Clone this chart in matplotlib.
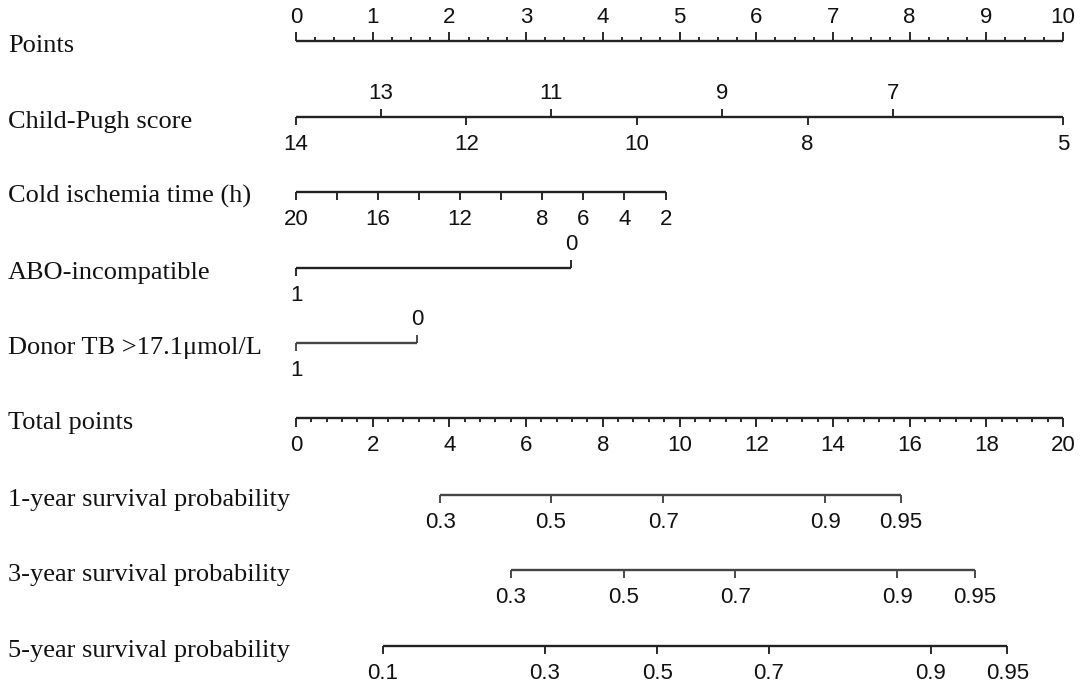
import matplotlib
matplotlib.use("Agg")
import matplotlib.pyplot as plt

# ---------------- data ----------------
row_labels = ["Points", "Child-Pugh score", "Cold ischemia time (h)", "ABO-incompatible",
              "Donor TB >17.1\u03bcmol/L", "Total points", "1-year survival probability",
              "3-year survival probability", "5-year survival probability"]

points_values = [0, 1, 2, 3, 4, 5, 6, 7, 8, 9, 10]

cp_values = [14, 13, 12, 11, 10, 9, 8, 7, 5]
cp_points = [0, 1.11, 2.22, 3.33, 4.44, 5.56, 6.67, 7.78, 10]
cp_above = [13, 11, 9, 7]

cold_values = [20, 18, 16, 14, 12, 10, 8, 6, 4, 2]
cold_points = [0, 0.535, 1.07, 1.60, 2.14, 2.67, 3.21, 3.74, 4.28, 4.82]
cold_labeled = [20, 16, 12, 8, 6, 4, 2]

abo_values = [1, 0]
abo_points = [0, 3.59]

tb_values = [1, 0]
tb_points = [0, 1.58]

total_values = [0, 2, 4, 6, 8, 10, 12, 14, 16, 18, 20]

surv_labels = ["0.3", "0.5", "0.7", "0.9", "0.95"]
surv1_total = [3.76, 6.64, 9.58, 13.80, 15.77]
surv3_total = [5.60, 8.54, 11.46, 15.68, 17.70]
surv5_labels = ["0.1", "0.3", "0.5", "0.7", "0.9", "0.95"]
surv5_total = [2.26, 6.48, 9.42, 12.33, 16.55, 18.55]

# ---------------- layout ----------------
W, H = 1084, 687
x0_px, px_per_pt = 296.0, 76.7
row_y = [41, 117, 192, 268, 343, 418, 495, 570, 646]
max_total = 20.0

fig = plt.figure(figsize=(W / 100, H / 100), dpi=100)
ax = fig.add_axes([0, 0, 1, 1])
ax.set_xlim(-x0_px / px_per_pt, (W - x0_px) / px_per_pt)
ax.set_ylim(H, 0)
ax.axis("off")

LC = "#222222"
LW = 1.7
SERIF = ["Liberation Serif", "DejaVu Serif"]
SANS = ["Liberation Sans", "DejaVu Sans"]
LAB_FS = 19
TICK_FS = 16
TICK_LEN = 8  # px
GAP_UP = 18
GAP_DN = 17


def tick(x, y, up, length=TICK_LEN, color=LC):
    y2 = y - length if up else y + length
    ax.plot([x, x], [y, y2], color=color, lw=LW * 0.8, solid_capstyle="butt")


def label(x, y, s, up):
    if up:
        ax.text(x, y - GAP_UP, s, ha="center", va="baseline", fontsize=TICK_FS,
                family=SANS, color="#111111")
    else:
        ax.text(x, y + GAP_DN, s, ha="center", va="top", fontsize=TICK_FS,
                family=SANS, color="#111111")


def hline(x1, x2, y, color=LC):
    ax.plot([x1, x2], [y, y], color=color, lw=LW, solid_capstyle="butt")


# row labels
for lab, y in zip(row_labels, row_y):
    ax.text(-x0_px / px_per_pt + 8 / px_per_pt, y + 11, lab, ha="left", va="baseline",
            fontsize=LAB_FS, family=SERIF, color="#111111")

# Points axis
y = row_y[0]
hline(points_values[0], points_values[-1], y)
for i in range(len(points_values) - 1):
    a, b = points_values[i], points_values[i + 1]
    for k in range(1, 4):
        tick(a + (b - a) * k / 4, y, True, length=4)
for v in points_values:
    tick(v, y, True, length=9)
    label(v, y, str(v), True)

# Child-Pugh
y = row_y[1]
hline(min(cp_points), max(cp_points), y)
for v, p in zip(cp_values, cp_points):
    up = v in cp_above
    tick(p, y, up)
    label(p, y, str(v), up)

# Cold ischemia
y = row_y[2]
hline(min(cold_points), max(cold_points), y)
for v, p in zip(cold_values, cold_points):
    tick(p, y, False)
    if v in cold_labeled:
        label(p, y, str(v), False)

# ABO
y = row_y[3]
hline(min(abo_points), max(abo_points), y)
for v, p in zip(abo_values, abo_points):
    up = (v == 0)
    tick(p, y, up)
    label(p, y, str(v), up)

# Donor TB
y = row_y[4]
hline(min(tb_points), max(tb_points), y, color="#444444")
for v, p in zip(tb_values, tb_points):
    up = (v == 0)
    tick(p, y, up, color="#444444")
    label(p, y, str(v), up)

# Total points
y = row_y[5]
scale = points_values[-1] / max_total
hline(0, max_total * scale, y)
for i in range(len(total_values) - 1):
    a, b = total_values[i], total_values[i + 1]
    for k in range(1, 5):
        tick((a + (b - a) * k / 5) * scale, y, False, length=4)
for v in total_values:
    tick(v * scale, y, False, length=9)
    label(v * scale, y, str(v), False)

# survival probabilities
for labs, tots, y, col in [(surv_labels, surv1_total, row_y[6], "#444444"),
                           (surv_labels, surv3_total, row_y[7], "#444444"),
                           (surv5_labels, surv5_total, row_y[8], LC)]:
    hline(min(tots) * scale, max(tots) * scale, y, color=col)
    for s, t in zip(labs, tots):
        tick(t * scale, y, False, color=col)
        label(t * scale, y, s, False)

fig.savefig("out.png", dpi=100)
